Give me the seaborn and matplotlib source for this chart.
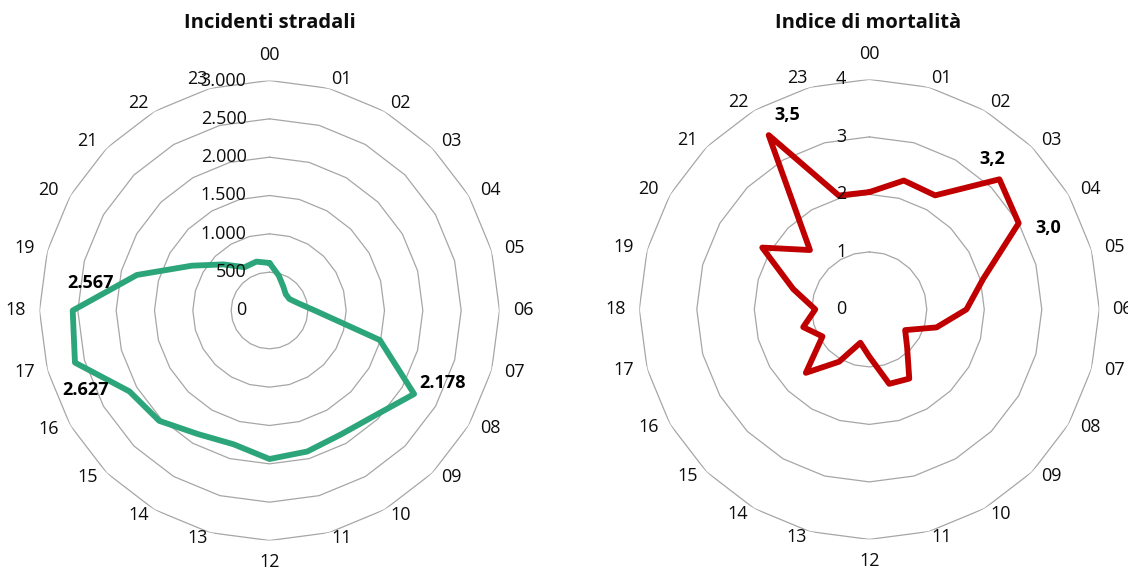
import numpy as np
import pandas as pd
import matplotlib
matplotlib.use("Agg")
import matplotlib.pyplot as plt
import seaborn as sns

# Hourly road accidents and mortality index (00-23)
hours = [f"{h:02d}" for h in range(24)]
incidenti = [620, 470, 360, 300, 300, 380, 590, 1490, 2178, 1940, 1866, 1904,
             1937, 1807, 1862, 2035, 2110, 2627, 2567, 1791, 1169, 850, 652, 660]
mortalita = [2.04, 2.32, 2.29, 3.2, 3.0, 2.05, 1.69, 1.21, 0.72, 0.93, 1.39, 1.34,
             0.82, 0.60, 1.05, 1.56, 0.94, 1.19, 0.94, 1.37, 2.15, 1.46, 3.5, 2.05]
ticks_incidenti = [0, 500, 1000, 1500, 2000, 2500, 3000]
ticks_mortalita = [0, 1, 2, 3, 4]
titles = ["Incidenti stradali", "Indice di mortalità"]

sns.set_style("white")
plt.rcParams["font.family"] = ["Open Sans", "DejaVu Sans"]

W, H = 1128, 569
fig = plt.figure(figsize=(W / 100, H / 100), dpi=100)

GRID = "#A6A6A6"
TEXT = "#0d0d0d"
FS = 13


def fmt_thousands(v):
    return f"{v:,.0f}".replace(",", ".")


def fmt_decimal(v):
    return f"{v:.1f}".replace(".", ",")


def category_offset(th):
    """Pixel offset of an hour label from its outer-ring vertex."""
    s, c = np.sin(th), np.cos(th)
    if abs(s) < 1e-6:
        return 0.0, (25.0 if c > 0 else -22.0)
    dx = np.sign(s) * 9 + 14.5 * s
    dy = c * (10 if c > 0 else 6)
    return dx, dy


def radar(ax, values, ticks, tick_fmt, color, callouts):
    theta = np.deg2rad(np.arange(len(hours)) * 15.0)
    closed_theta = np.append(theta, 2 * np.pi)
    ax.set_theta_zero_location("N")
    ax.set_theta_direction(-1)
    ax.set_ylim(0, ticks[-1])
    ax.grid(False)
    ax.spines["polar"].set_visible(False)
    ax.set_xticks([])
    ax.set_yticks([])

    # polygonal gridlines
    for t in ticks[1:]:
        ax.plot(closed_theta, [t] * len(closed_theta), color=GRID, lw=0.9, zorder=1)

    df = pd.DataFrame({"theta": closed_theta, "value": list(values) + [values[0]]})
    sns.lineplot(data=df, x="theta", y="value", sort=False, estimator=None,
                 ax=ax, color=color, lw=4.2, zorder=3)
    ax.set_xlabel("")
    ax.set_ylabel("")

    # hour labels around the outer ring
    rmax = ticks[-1]
    for th, lab in zip(theta, hours):
        ax.annotate(lab, xy=(th, rmax), xytext=category_offset(th),
                    textcoords="offset pixels", ha="center", va="center",
                    fontsize=FS, color=TEXT, annotation_clip=False)

    # value axis labels along the 00 spoke
    for t in ticks:
        ax.annotate(tick_fmt(t), xy=(0, t), xytext=(-23, 0), textcoords="offset pixels",
                    ha="right", va="center", fontsize=FS, color=TEXT,
                    annotation_clip=False, zorder=4)

    # data labels for highlighted hours
    for h, (dx, dy), lab_fmt in callouts:
        ax.annotate(lab_fmt(values[h]), xy=(theta[h], values[h]), xytext=(dx, dy),
                    textcoords="offset pixels", ha="center", va="center",
                    fontsize=FS, fontweight="bold", color="black",
                    annotation_clip=False, zorder=5)


ax1 = fig.add_axes([39.5 / W, 28.5 / H, 460 / W, 460 / H], projection="polar")
radar(ax1, incidenti, ticks_incidenti, fmt_thousands, "#2CA57A",
      [(8, (28, 11), fmt_thousands),
       (17, (11, -27), fmt_thousands),
       (18, (18, 27), fmt_thousands)])

ax2 = fig.add_axes([639.3 / W, 29.6 / H, 460 / W, 460 / H], projection="polar")
radar(ax2, mortalita, ticks_mortalita, lambda v: f"{v:d}", "#C00000",
      [(22, (19, 20), fmt_decimal),
       (3, (-7, 20), fmt_decimal),
       (4, (30, -5), fmt_decimal)])

fig.text(270 / W, 1 - 23 / H, titles[0], ha="center", va="center",
         fontsize=14.5, fontweight="bold", color=TEXT)
fig.text(868 / W, 1 - 23 / H, titles[1], ha="center", va="center",
         fontsize=14.5, fontweight="bold", color=TEXT)

fig.savefig("out.png", dpi=100)
